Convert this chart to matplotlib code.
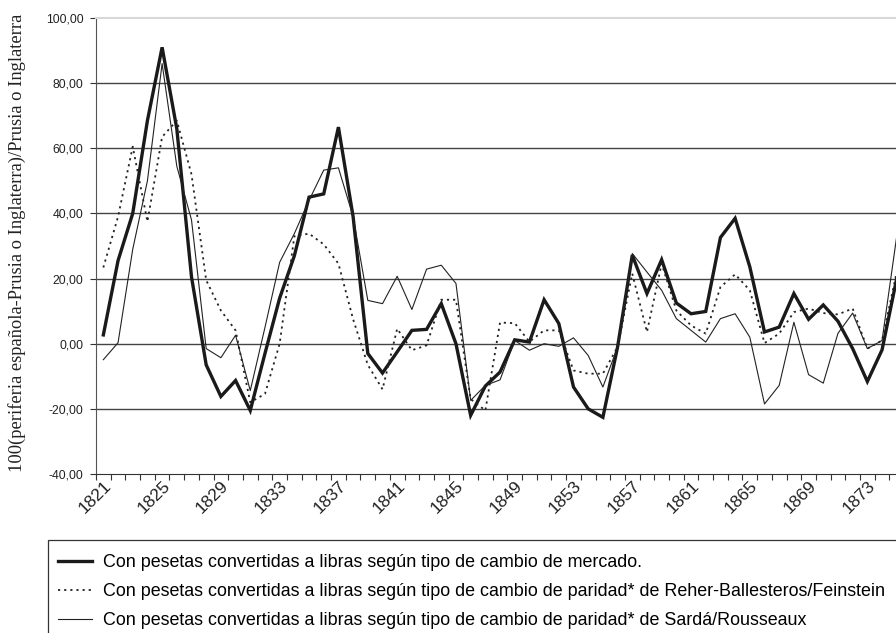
import numpy as np
import matplotlib
matplotlib.use('Agg')
import matplotlib.pyplot as plt
from matplotlib.patches import Rectangle

years = np.arange(1821, 1876)

mercado = [2.7, 25.5, 40, 68.5, 91, 66, 20.5, -6.5, -16.2, -11.3,
           -20.5, -3, 14, 27, 45, 46, 66.5, 39, -3, -9,
           -2.5, 4.1, 4.4, 12.3, 0, -22, -13, -8.7, 1.2, 0.5,
           13.5, 6.2, -13.3, -20, -22.6, -1, 27.2, 15.4, 25.8, 12.5,
           9.2, 9.9, 32.6, 38.5, 23.6, 3.6, 5.1, 15.4, 7.5, 11.9,
           6.9, -1.5, -11.6, -1.9, 20]

reher = [23.4, 39, 60.5, 37.5, 63.5, 68.5, 52, 19.5, 10.2, 4.1,
         -18, -15.4, 0, 33, 33.8, 30.5, 24.6, 7.5, -6.5, -14,
         4.6, -2, -0.5, 13.5, 13.5, -17, -20.5, 6.5, 6.3, 0.6,
         4.1, 4.1, -8.2, -9.2, -9.2, -1, 21.5, 3.6, 24.6, 10.2,
         5.6, 3.1, 17.4, 21.3, 16.4, 0.2, 3.1, 9.7, 10.8, 9.4,
         9, 10.8, -1.5, 1, 22]

sarda = [-4.9, 0.3, 29, 50, 86, 54.5, 38, -1.5, -4.3, 2.6,
         -14.4, 5, 25, 33.8, 44, 53.3, 54, 39, 13.3, 12.3,
         20.7, 10.5, 22.9, 24.1, 18.5, -17.4, -12.8, -11.1, 1, -2,
         0, -0.8, 1.8, -3.6, -13.3, -1, 27.7, 22, 16.4, 7.7,
         4.1, 0.5, 7.7, 9.2, 2, -18.5, -12.8, 6.6, -9.5, -12.1,
         3.2, 9.4, -1.5, 1, 33]

labels = ['Con pesetas convertidas a libras según tipo de cambio de mercado.',
          'Con pesetas convertidas a libras según tipo de cambio de paridad* de Reher-Ballesteros/Feinstein',
          'Con pesetas convertidas a libras según tipo de cambio de paridad* de Sardá/Rousseaux']

W, H = 896, 633
fig = plt.figure(figsize=(W / 100, H / 100), dpi=100)
ax = fig.add_axes([96 / W, 1 - 474 / H, 1 - 96 / W, (474 - 18) / H])

x = np.arange(len(years))
l1, = ax.plot(x, mercado, color='#1a1a1a', lw=2.4, solid_joinstyle='miter')
l2, = ax.plot(x, reher, color='#222222', lw=1.3, linestyle=(0, (1.2, 2.2)))
l3, = ax.plot(x, sarda, color='#222222', lw=0.8)

ax.set_xlim(-0.5, 53.95)
ax.set_ylim(-40, 100)
yt = np.arange(-40, 101, 20)
ax.set_yticks(yt)
ax.set_yticklabels([('%.2f' % v).replace('.', ',') for v in yt])
for v in range(-20, 100, 20):
    ax.axhline(v, color='#444444', lw=1.0, zorder=0)

# tick marks between categories, labels every 4 years
ax.set_xticks(np.arange(-0.5, 54.5, 1))
ax.set_xticklabels([])
lab_pos = np.arange(0, 54, 4)
ax.set_xticks(lab_pos, minor=True)
ax.set_xticklabels([str(years[i]) for i in lab_pos], minor=True,
                   rotation=45, ha='right', va='top', rotation_mode='anchor',
                   fontsize=12.5, family='Liberation Sans', color='#222222')
ax.tick_params(axis='x', which='major', length=4, width=0.8, color='#333333', direction='out')
ax.tick_params(axis='x', which='minor', length=0, pad=3)
ax.tick_params(axis='y', length=4, width=0.8, color='#333333', direction='out',
               labelsize=8.8, pad=5)
for t in ax.get_yticklabels():
    t.set_family('Liberation Sans')
    t.set_color('#222222')

ax.spines['right'].set_visible(False)
ax.spines['top'].set_color('#d8d8d8')
ax.spines['top'].set_linewidth(1.5)
ax.spines['left'].set_color('#555555')
ax.spines['bottom'].set_color('#333333')
ax.spines['left'].set_linewidth(0.8)
ax.spines['bottom'].set_linewidth(0.8)

fig.text(17 / W, 1 - 243 / H, '100(periferia española-Prusia o Inglaterra)/Prusia o Inglaterra',
         rotation=90, ha='center', va='center', fontsize=13.3,
         family='Liberation Serif', color='#222222')

# legend box
fig.patches.append(Rectangle((48 / W, -0.05), 1.0, 1 - 540 / H + 0.05,
                             transform=fig.transFigure, fill=False,
                             edgecolor='#333333', lw=0.9))
fig.legend([l1, l2, l3], labels, loc='upper left',
           bbox_to_anchor=(58 / W, 1 - 554 / H), frameon=False,
           prop={'family': 'Liberation Sans', 'size': 12.9},
           handlelength=1.9, handletextpad=0.6, labelspacing=0.68,
           borderpad=0.0, borderaxespad=0.0)

fig.savefig('out.png', dpi=100)
